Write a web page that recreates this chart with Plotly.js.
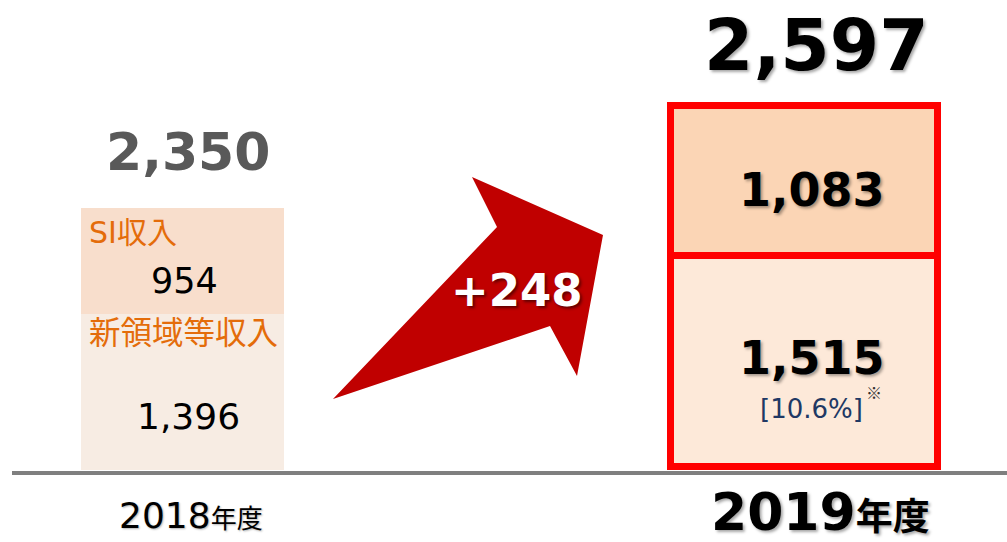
<!DOCTYPE html>
<html>
<head>
<meta charset="utf-8">
<script src="https://cdn.plot.ly/plotly-3.0.1.min.js"></script>
<style>html,body{margin:0;padding:0;background:#fff;}#chart{width:1007px;height:542px;}</style>
</head>
<body>
<div id="chart"></div>
<script>
// ---- data ----
const categories = ['2018年度', '2019年度'];
const segmentNames = ['SI収入', '新領域等収入'];
const siRevenue = [954, 1083];
const newRevenue = [1396, 1515];
const totals = [2350, 2597];
const changeLabel = '+248';
const shareLabel = '[10.6%]';
const noteMark = '※';

// ---- styling ----
const FONT = 'DejaVu Sans, "Noto Sans CJK JP", sans-serif';
const JFONT = '"Noto Sans CJK JP", "DejaVu Sans", sans-serif';
const W = 1007, H = 542;
const px = x => x / W;
const py = y => 1 - y / H;

const traces = [
  {type: 'bar', x: [categories[0]], y: [newRevenue[0]], name: segmentNames[1], yaxis: 'y',
   width: [0.327], marker: {color: '#F7ECE3', line: {width: 0}}, hoverinfo: 'skip'},
  {type: 'bar', x: [categories[0]], y: [siRevenue[0]], name: segmentNames[0], yaxis: 'y',
   width: [0.327], marker: {color: '#F8DECC', line: {width: 0}}, hoverinfo: 'skip'},
  {type: 'bar', x: [categories[1]], y: [newRevenue[1]], name: segmentNames[1], yaxis: 'y2',
   width: [0.43], marker: {color: '#FDE9D9', line: {color: '#FF0000', width: 7}}, hoverinfo: 'skip'},
  {type: 'bar', x: [categories[1]], y: [siRevenue[1]], name: segmentNames[0], yaxis: 'y2',
   width: [0.43], marker: {color: '#FBD5B5', line: {color: '#FF0000', width: 7}}, hoverinfo: 'skip'}
];

const fmt = v => v.toLocaleString('en-US');
const shadow = '2px 2px 3px rgba(0,0,0,0.35)';

const annotations = [
  // 2018
  {x: categories[0], y: totals[0], yref: 'y', text: fmt(totals[0]), yshift: 56, xshift: 5,
   font: {family: FONT, size: 52, color: '#595959', weight: 'bold'}},
  {x: categories[0], y: totals[0], yref: 'y', text: segmentNames[0], xanchor: 'left', xshift: -96, yshift: -25,
   font: {family: FONT, size: 30, color: '#E46C0A'}},
  {x: categories[0], y: newRevenue[0] + siRevenue[0] / 2, yref: 'y', text: fmt(siRevenue[0]), yshift: -20, xshift: 2,
   font: {family: FONT, size: 35, color: '#000'}},
  {x: categories[0], y: newRevenue[0], yref: 'y', text: segmentNames[1], xanchor: 'left', xshift: -96, yshift: -16,
   font: {family: JFONT, size: 31.5, color: '#E46C0A'}},
  {x: categories[0], y: 0, yref: 'y', text: fmt(newRevenue[0]), yshift: 54, xshift: 6,
   font: {family: FONT, size: 36, color: '#000'}},
  {x: categories[0], y: 0, yref: 'y', text: '2018<span style="font-size:26px">年度</span>', yshift: -45, xshift: 8,
   font: {family: FONT, size: 36, color: '#000', shadow: '1px 1px 2px rgba(0,0,0,0.3)'}},
  // 2019
  {x: categories[1], y: totals[1], yref: 'y2', text: fmt(totals[1]), yshift: 61, xshift: 12,
   font: {family: FONT, size: 71, color: '#000', weight: 'bold', shadow: shadow}},
  {x: categories[1], y: newRevenue[1] + siRevenue[1] / 2, yref: 'y2', text: fmt(siRevenue[1]), yshift: -9, xshift: 8,
   font: {family: FONT, size: 46, color: '#000', weight: 'bold', shadow: shadow}},
  {x: categories[1], y: newRevenue[1] / 2, yref: 'y2', text: fmt(newRevenue[1]), yshift: 3, xshift: 8,
   font: {family: FONT, size: 46, color: '#000', weight: 'bold', shadow: shadow}},
  {x: categories[1], y: 0, yref: 'y2', text: shareLabel, yshift: 57, xshift: 7,
   font: {family: FONT, size: 26, color: '#203864'}},
  {x: categories[1], y: 0, yref: 'y2', text: noteMark, yshift: 74, xshift: 70,
   font: {family: JFONT, size: 16, color: '#333'}},
  {x: categories[1], y: 0, yref: 'y2', text: '2019<span style="font-size:37px">年度</span>', yshift: -46, xshift: 16,
   font: {family: FONT, size: 52, color: '#000', weight: 'bold', shadow: shadow}},
  // change label on arrow
  {xref: 'paper', yref: 'paper', x: px(517), y: py(290), text: changeLabel, showarrow: false,
   font: {family: FONT, size: 45, color: '#FFFFFF', weight: 'bold', shadow: '2px 2px 3px rgba(0,0,0,0.5)'}}
].map(a => Object.assign({showarrow: false, xref: 'x'}, a));

const arrowPts = [[333, 399], [497, 227], [472, 177], [603, 235], [577, 376], [550, 326]];
const arrowPath = 'M ' + arrowPts.map(p => px(p[0]).toFixed(5) + ',' + py(p[1]).toFixed(5)).join(' L ') + ' Z';

const layout = {
  width: W, height: H,
  margin: {l: 0, r: 0, t: 0, b: 0, pad: 0},
  paper_bgcolor: '#FFFFFF', plot_bgcolor: '#FFFFFF',
  barmode: 'stack', showlegend: false,
  xaxis: {type: 'category', categoryorder: 'array', categoryarray: categories, range: [-0.2937, 1.3266],
          showgrid: false, zeroline: false, showticklabels: false, showline: false, fixedrange: true},
  yaxis: {range: [-645.8, 4215.5], showgrid: false, zeroline: false, showticklabels: false, showline: false, fixedrange: true},
  yaxis2: {range: [-548.3, 3361.7], overlaying: 'y', side: 'right', showgrid: false, zeroline: false,
           showticklabels: false, showline: false, fixedrange: true},
  shapes: [
    {type: 'line', xref: 'paper', yref: 'paper', x0: px(12), x1: 1, y0: py(473), y1: py(473),
     line: {color: '#7F7F7F', width: 4}, layer: 'above'},
    {type: 'path', xref: 'paper', yref: 'paper', path: arrowPath, fillcolor: '#C00000', line: {width: 0}, layer: 'above'}
  ],
  annotations: annotations
};

Plotly.newPlot('chart', traces, layout, {displayModeBar: false, staticPlot: true});
</script>
</body>
</html>
